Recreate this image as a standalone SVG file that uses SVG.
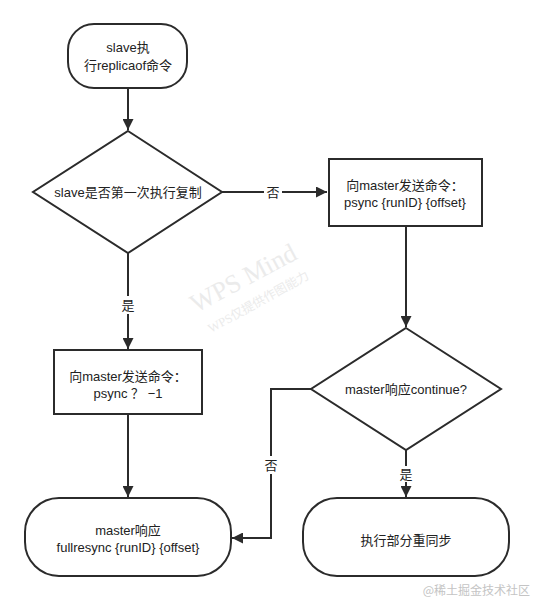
<svg xmlns="http://www.w3.org/2000/svg" width="533" height="601" viewBox="0 0 533 601">
<defs>
<style>
.n{fill:#fff;stroke:#2b2b2b;stroke-width:2}
.t{font-family:"Liberation Sans","Noto Sans CJK SC",sans-serif;font-size:13px;fill:#222;text-anchor:middle}
.c{fill:none;stroke:#2b2b2b;stroke-width:2}
.lb{font-family:"Liberation Sans","Noto Sans CJK SC",sans-serif;font-size:13px;fill:#222;text-anchor:middle}
.bg{fill:#fff}
</style>
<marker id="ah" viewBox="0 0 10 10" refX="10" refY="5" markerWidth="5.5" markerHeight="5.5" orient="auto" markerUnits="strokeWidth">
<path d="M0,0 L10,5 L0,10 z" fill="#2b2b2b"/>
</marker>
</defs>
<rect width="533" height="601" fill="#fff"/>
<g id="watermark">
<text x="0" y="0" transform="translate(196,313) rotate(-28)" font-family="Liberation Serif, serif" font-size="26" fill="#ebebeb">WPS Mind</text>
<text x="0" y="0" transform="translate(211,333) rotate(-29)" font-family="Liberation Serif, 'Noto Sans CJK SC', serif" font-size="12.5" fill="#ebebeb">WPS仅提供作图能力</text>
</g>
<g id="connectors">
<path class="c" d="M128,88 V130" marker-end="url(#ah)"/>
<path class="c" d="M222,192 H327" marker-end="url(#ah)"/>
<rect class="bg" x="264" y="183" width="18" height="18"/>
<text class="lb" x="273" y="197">否</text>
<path class="c" d="M128,253 V349" marker-end="url(#ah)"/>
<rect class="bg" x="119" y="296" width="18" height="18"/>
<text class="lb" x="128" y="310">是</text>
<path class="c" d="M406,226 V327" marker-end="url(#ah)"/>
<path class="c" d="M406,450 V497" marker-end="url(#ah)"/>
<rect class="bg" x="397" y="466" width="18" height="16"/>
<text class="lb" x="406" y="479">是</text>
<path class="c" d="M311,389 H271 V538 H232" marker-end="url(#ah)"/>
<rect class="bg" x="262" y="456" width="18" height="18"/>
<text class="lb" x="271" y="470">否</text>
<path class="c" d="M128,414 V497" marker-end="url(#ah)"/>
</g>
<g id="start">
<rect class="n" x="68" y="24" width="119" height="64" rx="26" ry="26"/>
<text class="t" x="128" y="52">slave执</text>
<text class="t" x="128" y="70">行replicaof命令</text>
</g>
<g id="decision1">
<polygon class="n" points="128,131 222,192 128,253 33,192"/>
<text class="t" x="128" y="197">slave是否第一次执行复制</text>
</g>
<g id="psync-offset">
<rect class="n" x="329" y="159" width="153" height="67"/>
<text class="t" x="405" y="190">向master发送命令：</text>
<text class="t" x="405" y="207">psync {runID} {offset}</text>
</g>
<g id="psync-full">
<rect class="n" x="54" y="350" width="148" height="64"/>
<text class="t" x="128" y="381">向master发送命令：</text>
<text class="t" x="128" y="398">psync ？ −1</text>
</g>
<g id="decision2">
<polygon class="n" points="406,328 501,389 406,450 311,389"/>
<text class="t" x="406" y="394">master响应continue?</text>
</g>
<g id="fullresync">
<rect class="n" x="25" y="498" width="206" height="78" rx="34" ry="34"/>
<text class="t" x="128" y="535">master响应</text>
<text class="t" x="128" y="552">fullresync {runID} {offset}</text>
</g>
<g id="partial">
<rect class="n" x="303" y="498" width="206" height="78" rx="34" ry="34"/>
<text class="t" x="406" y="545">执行部分重同步</text>
</g>
<text x="530" y="595" font-family="'Noto Sans CJK SC',sans-serif" font-size="12" fill="#c4c4c4" text-anchor="end">@稀土掘金技术社区</text>
</svg>
